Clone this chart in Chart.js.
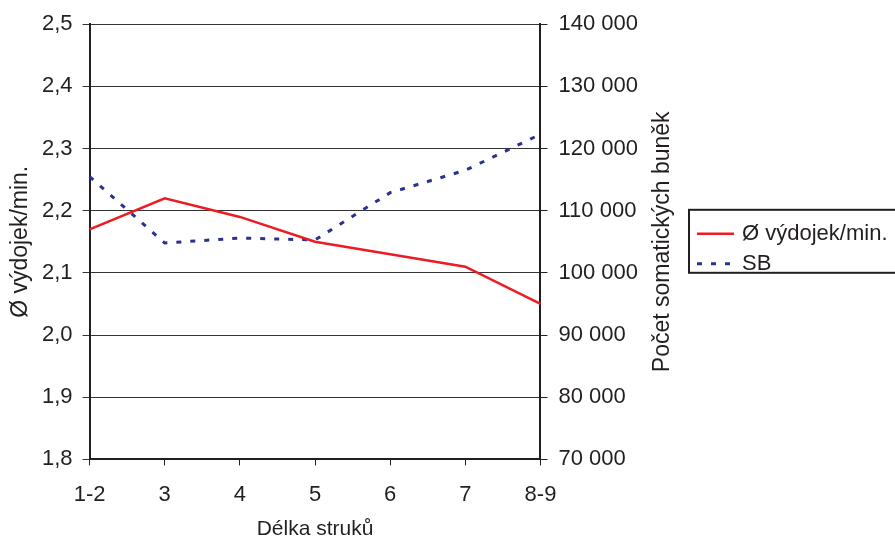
<!DOCTYPE html>
<html>
<head>
<meta charset="utf-8">
<script src="https://cdn.jsdelivr.net/npm/chart.js@4/dist/chart.umd.min.js"></script>
<style>
  html, body { margin: 0; padding: 0; background: #fff; }
  #wrap { width: 895px; height: 538px; }
</style>
</head>
<body>
<div id="wrap"><canvas id="graf" width="895" height="538"></canvas></div>
<script>
// Data
const delkaStruku = ['1-2', '3', '4', '5', '6', '7', '8-9'];
const vydojekMin = [2.17, 2.22, 2.19, 2.15, 2.13, 2.11, 2.05];
const somatickeBunky = [115500, 104800, 105600, 105300, 112900, 116500, 122300];

const leveOsaTicks = [1.8, 1.9, 2.0, 2.1, 2.2, 2.3, 2.4, 2.5];
const praveOsaTicks = [70000, 80000, 90000, 100000, 110000, 120000, 130000, 140000];

const rodina = '"Liberation Sans", Arial, sans-serif';
const pismo = { family: rodina, size: 22 };
const pismoX = { family: rodina, size: 21 };
const pismoTitulek = { family: rodina, size: 23, lineHeight: 1 };
const cerna = '#231f20';

// formátování čísel po česku
const desetinne = (v) => v.toFixed(1).replace('.', ',');
const tisice = (v) => String(Math.round(v)).replace(/\B(?=(\d{3})+(?!\d))/g, ' ');

// legenda s rámečkem vpravo (useknutá okrajem jako v předloze)
const legendaVpravo = {
    id: 'legendaVpravo',
    afterDraw(chart) {
        const ctx = chart.ctx;
        const left = chart.width - 206;
        const stred = (chart.chartArea.top + chart.chartArea.bottom) / 2;
        const top = stred - 32;
        ctx.save();
        ctx.strokeStyle = cerna;
        ctx.lineWidth = 2;
        ctx.strokeRect(left, top, 220, 63);
        ctx.font = `${pismo.size}px ${pismo.family}`;
        ctx.textBaseline = 'middle';
        ctx.fillStyle = cerna;
        chart.data.datasets.forEach((ds, i) => {
            const y = top + 24 + i * 30;
            ctx.beginPath();
            ctx.strokeStyle = ds.borderColor;
            ctx.lineWidth = ds.borderWidth;
            ctx.setLineDash(ds.borderDash || []);
            ctx.moveTo(left + 8, y);
            ctx.lineTo(left + 45, y);
            ctx.stroke();
            ctx.setLineDash([]);
            ctx.fillText(ds.label, left + 53, y);
        });
        ctx.restore();
    }
};

// titulek pravé osy čtený zdola nahoru
const titulekPrava = {
    id: 'titulekPrava',
    afterDraw(chart) {
        const s = chart.scales.y1;
        const ctx = chart.ctx;
        ctx.save();
        ctx.font = `${pismoTitulek.size}px ${pismoTitulek.family}`;
        ctx.fillStyle = cerna;
        ctx.textAlign = 'center';
        ctx.textBaseline = 'middle';
        ctx.translate(s.right - 4 - pismoTitulek.size * 0.5, (chart.chartArea.top + chart.chartArea.bottom) / 2);
        ctx.rotate(-Math.PI / 2);
        ctx.fillText('Počet somatických buněk', 0, 0);
        ctx.restore();
    }
};

new Chart(document.getElementById('graf'), {
    type: 'line',
    data: {
        labels: delkaStruku,
        datasets: [{
            label: 'Ø výdojek/min.',
            data: vydojekMin,
            yAxisID: 'y',
            borderColor: 'rgb(237, 28, 36)',
            backgroundColor: 'rgb(237, 28, 36)',
            borderWidth: 2.5,
            pointRadius: 0,
            tension: 0,
        }, {
            label: 'SB',
            data: somatickeBunky,
            yAxisID: 'y1',
            borderColor: 'rgb(43, 49, 145)',
            backgroundColor: 'rgb(43, 49, 145)',
            borderWidth: 3,
            borderDash: [5, 9],
            pointRadius: 0,
            tension: 0,
        }]
    },
    options: {
        responsive: false,
        animation: false,
        layout: { padding: { top: 10, left: 9, right: 217, bottom: -4 } },
        plugins: {
            tooltip: { enabled: false },
            legend: { display: false }
        },
        scales: {
            x: {
                offset: false,
                border: { color: cerna, width: 2 },
                grid: { drawOnChartArea: false, color: cerna, tickLength: 6 },
                ticks: { color: cerna, font: pismo, padding: 16, maxRotation: 0 },
                title: { display: true, text: 'Délka struků', color: cerna, font: pismoX, padding: { top: -7, bottom: 0 } }
            },
            y: {
                position: 'left',
                min: 1.8,
                max: 2.5,
                afterBuildTicks: (axis) => { axis.ticks = leveOsaTicks.map(v => ({ value: v })); },
                border: { color: cerna, width: 2 },
                grid: { color: '#333', lineWidth: 1, tickLength: 7 },
                ticks: { color: cerna, font: pismo, padding: 10, callback: (v) => desetinne(v) },
                title: { display: true, text: 'Ø výdojek/min.', color: cerna, font: pismoTitulek, padding: { top: 0, bottom: 0 } }
            },
            y1: {
                position: 'right',
                min: 70000,
                max: 140000,
                afterBuildTicks: (axis) => { axis.ticks = praveOsaTicks.map(v => ({ value: v })); },
                border: { color: cerna, width: 2 },
                grid: { drawOnChartArea: false, color: cerna, tickLength: 7 },
                ticks: { color: cerna, font: pismo, padding: 11, callback: (v) => tisice(v) },
                title: { display: true, text: 'Počet somatických buněk', color: 'rgba(0,0,0,0)', font: pismoTitulek, padding: { top: 2, bottom: 4 } }
            }
        }
    },
    plugins: [legendaVpravo, titulekPrava]
});
</script>
</body>
</html>
